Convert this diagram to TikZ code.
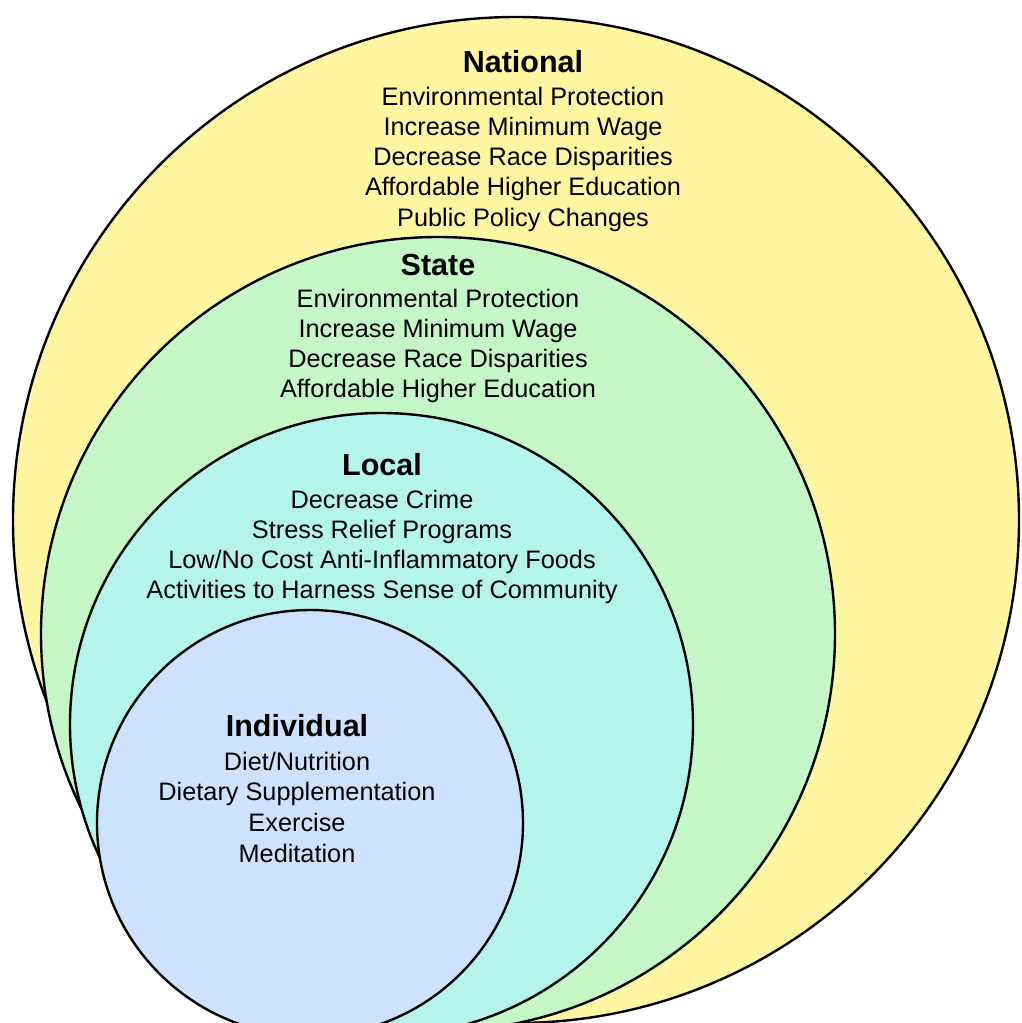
\documentclass[tikz,border=0pt]{standalone}
\usepackage{fontspec}
\setmainfont{Liberation Sans}
\usepackage{xcolor}
\definecolor{natyellow}{HTML}{FFF6A1}
\definecolor{stagreen}{HTML}{C4F6C6}
\definecolor{loccyan}{HTML}{B5F4EB}
\definecolor{indblue}{HTML}{CDE3FD}
\tikzset{ring/.style = {circle, draw=black, line width=2.4pt, inner sep=0pt},
         levelname/.style = {anchor=base, font=\fontsize{30.5}{36}\selectfont\bfseries},
         levelitem/.style = {anchor=base, font=\fontsize{25.3}{30}\selectfont}}

\begin{document}
\begin{tikzpicture}[x=1pt, y=-1pt]
    \useasboundingbox (0,0) rectangle (1021,1023);

    % nested rings
    \node[ring, fill=natyellow, minimum size=1006pt] (national) at (516,520) {};
    \node[ring, fill=stagreen, minimum size=794pt] (state) at (438,634) {};
    \node[ring, fill=loccyan, minimum size=623pt] (local) at (381.5,724.5) {};
    \node[ring, fill=indblue, minimum size=426pt] (individual) at (310,823) {};

    % National
    \node[levelname] (natname) at (523,72) {National};
    \node[levelitem] (nat1) at (523,105) {Environmental Protection};
    \node[levelitem] (nat2) at (523,135.3) {Increase Minimum Wage};
    \node[levelitem] (nat3) at (523,165.6) {Decrease Race Disparities};
    \node[levelitem] (nat4) at (523,195.9) {Affordable Higher Education};
    \node[levelitem] (nat5) at (523,226.2) {Public Policy Changes};

    % State
    \node[levelname] (staname) at (438,275) {State};
    \node[levelitem] (sta1) at (438,307) {Environmental Protection};
    \node[levelitem] (sta2) at (438,337.3) {Increase Minimum Wage};
    \node[levelitem] (sta3) at (438,367.6) {Decrease Race Disparities};
    \node[levelitem] (sta4) at (438,397.9) {Affordable Higher Education};

    % Local
    \node[levelname] (locname) at (382,475) {Local};
    \node[levelitem] (loc1) at (382,508) {Decrease Crime};
    \node[levelitem] (loc2) at (382,538.3) {Stress Relief Programs};
    \node[levelitem] (loc3) at (382,568.6) {Low/No Cost Anti-Inflammatory Foods};
    \node[levelitem] (loc4) at (382,598.9) {Activities to Harness Sense of Community};

    % Individual
    \node[levelname] (indname) at (297,736) {Individual};
    \node[levelitem] (ind1) at (297,770) {Diet/Nutrition};
    \node[levelitem] (ind2) at (297,800.7) {Dietary Supplementation};
    \node[levelitem] (ind3) at (297,831.4) {Exercise};
    \node[levelitem] (ind4) at (297,862.1) {Meditation};

\end{tikzpicture}
\end{document}
